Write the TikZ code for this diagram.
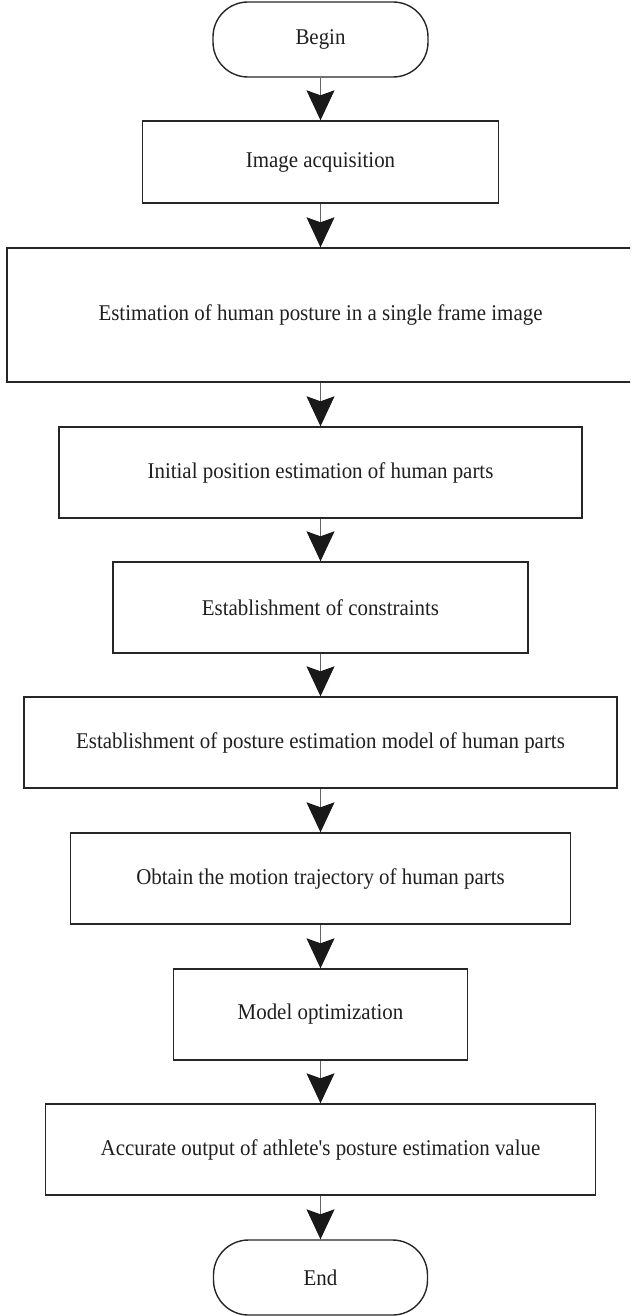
\documentclass[tikz,border=0pt]{standalone}
\usepackage{fontspec}
\setmainfont{Liberation Serif}[Ligatures=TeXOff,FakeStretch=0.93]
\usetikzlibrary{arrows.meta}
\begin{document}
\begin{tikzpicture}[x=1pt,y=-1pt,
  box/.style={draw=black!85, line width=1.4pt, rectangle, inner sep=0pt,
    text=black!88, font=\fontsize{22.5}{26}\selectfont},
  term/.style={box, rounded corners=35pt},
  conn/.style={draw=black!60, line width=1pt,
    -{Stealth[length=30pt,width=28pt,inset=5pt,color=black!90]}}]
\useasboundingbox (0,0) rectangle (630,1316);
\clip (0,0) rectangle (630,1316);
\node[term, minimum width=215pt, minimum height=75pt] (begin) at (320.5,39.5) {Begin};
\node[box, minimum width=356pt, minimum height=82pt] (acq) at (320.5,162) {Image acquisition};
\node[box, minimum width=627pt, minimum height=134pt] (est) at (320.5,315) {Estimation of human posture in a single frame image};
\node[box, minimum width=523pt, minimum height=91pt] (init) at (320.5,472.5) {Initial position estimation of human parts};
\node[box, minimum width=415pt, minimum height=91pt] (cons) at (320.5,607.5) {Establishment of constraints};
\node[box, minimum width=593pt, minimum height=91pt] (model) at (320.5,742.5) {Establishment of posture estimation model of human parts};
\node[box, minimum width=500pt, minimum height=91pt] (traj) at (320.5,878.5) {Obtain the motion trajectory of human parts};
\node[box, minimum width=294pt, minimum height=91pt] (opt) at (320.5,1014.5) {Model optimization};
\node[box, minimum width=550pt, minimum height=91pt] (out) at (320.5,1149.5) {Accurate output of athlete's posture estimation value};
\node[term, minimum width=214pt, minimum height=75pt] (end) at (320.5,1277.5) {End};
\draw[conn] (begin) -- (acq);
\draw[conn] (acq) -- (est);
\draw[conn] (est) -- (init);
\draw[conn] (init) -- (cons);
\draw[conn] (cons) -- (model);
\draw[conn] (model) -- (traj);
\draw[conn] (traj) -- (opt);
\draw[conn] (opt) -- (out);
\draw[conn] (out) -- (end);
\end{tikzpicture}
\end{document}
